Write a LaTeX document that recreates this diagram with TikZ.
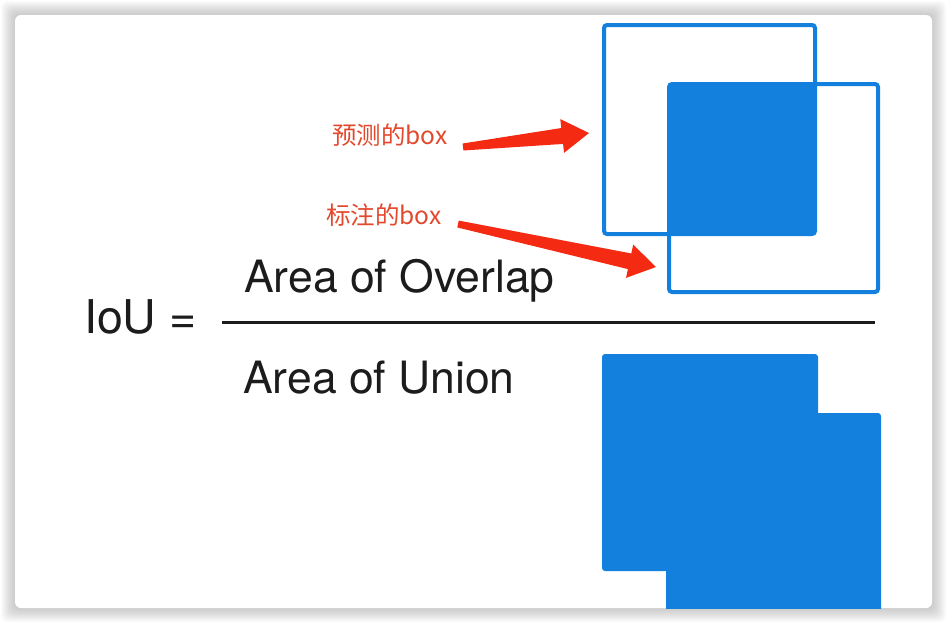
\documentclass[tikz,border=0pt]{standalone}
\usepackage{fontspec}
\setmainfont{TeX Gyre Heros}
\newfontfamily\cjk{Noto Sans CJK SC}
\usetikzlibrary{calc}
\definecolor{boxblue}{RGB}{19,128,221}
\definecolor{markred}{RGB}{244,42,18}
\definecolor{labelred}{RGB}{228,72,44}
\definecolor{inkblack}{RGB}{28,28,28}
% tapered marker arrow from #1 to #2
\newcommand{\markarrow}[2]{%
  \fill[markred,line join=round]
    ($(#1)!3.5pt!90:(#2)$) -- ($($(#2)!27pt!(#1)$)!8pt!90:(#2)$)
    -- ($($(#2)!27pt!(#1)$)!17pt!90:(#2)$) -- (#2)
    -- ($($(#2)!27pt!(#1)$)!17pt!-90:(#2)$)
    -- ($($(#2)!27pt!(#1)$)!8pt!-90:(#2)$) -- ($(#1)!3.5pt!-90:(#2)$)
    -- cycle;}
\tikzset{
  bigtext/.style={inner sep=0pt,anchor=base west,text=inkblack,
    font=\fontsize{44.5}{50}\selectfont},
  redlabel/.style={inner sep=0pt,anchor=west,text=labelred,
    font=\cjk\fontsize{24.5}{28}\selectfont},
  boxline/.style={draw=boxblue,line width=4pt,rounded corners=3pt},
  boxfill/.style={fill=boxblue,rounded corners=3pt}
}
\begin{document}
\begin{tikzpicture}[x=1pt,y=-1pt]
 \useasboundingbox (0,0) rectangle (947,624);
 % card with soft shadow
 \foreach \i in {1,...,14}
  \fill[black,opacity=0.016,rounded corners=6pt]
       (15-\i,15-\i) rectangle (932+\i,608+\i);
 \fill[white,rounded corners=6pt] (15,15) rectangle (932,608);
 % formula
 \node[bigtext,font=\fontsize{46.5}{50}\selectfont] (iou) at (84,333) {IoU =};
 \node[bigtext] (overlap) at (244,292) {Area of Overlap};
 \node[bigtext] (union) at (243,393) {Area of Union};
 \coordinate (barL) at (222,322);
 \coordinate (barR) at (875,322);
 \draw[inkblack,line width=3pt] (barL) -- (barR);
 % overlap picture
 \begin{scope}
  \fill[boxblue] (669,84) rectangle (815,234);
  \draw[boxline] (604,25) rectangle (815,234);
  \draw[boxline] (669,84) rectangle (878,292);
 \end{scope}
 % union picture
 \begin{scope}
  \clip (15,15) rectangle (932,608);
  \fill[boxfill] (602,354) rectangle (818,571);
  \fill[boxfill] (666,413) rectangle (881,630);
 \end{scope}
 % labels and arrows
 \node[redlabel] (pred) at (332,135) {预测的box};
 \node[redlabel] (gt) at (326,215) {标注的box};
 \coordinate (predtail) at (463,147);
 \coordinate (predtip) at (589,133);
 \coordinate (gttail) at (458,224);
 \coordinate (gttip) at (656,267);
 \markarrow{predtail}{predtip}
 \markarrow{gttail}{gttip}
\end{tikzpicture}
\end{document}
